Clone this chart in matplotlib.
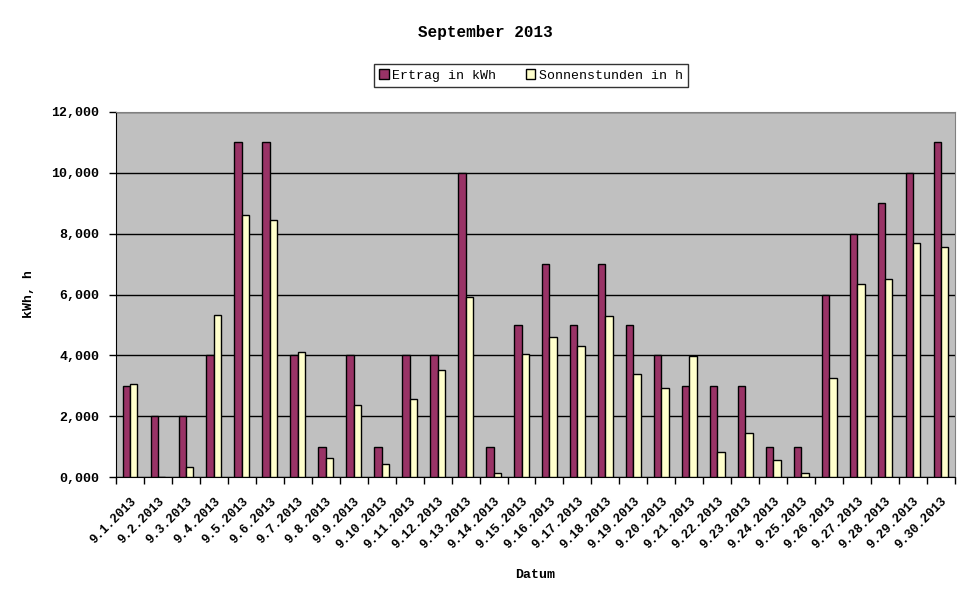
import matplotlib
matplotlib.use("Agg")
import matplotlib.pyplot as plt
import numpy as np
from matplotlib.ticker import FuncFormatter, FixedLocator

days = [f"9.{d}.2013" for d in range(1, 31)]
ertrag = [3, 2, 2, 4, 11, 11, 4, 1, 4, 1, 4, 4, 10, 1, 5, 7, 5, 7, 5, 4,
          3, 3, 3, 1, 1, 6, 8, 9, 10, 11]
sonne = [3.05, 0.0, 0.33, 5.32, 8.61, 8.46, 4.10, 0.63, 2.37, 0.42,
         2.56, 3.51, 5.91, 0.12, 4.04, 4.60, 4.30, 5.29, 3.38, 2.92,
         3.97, 0.82, 1.45, 0.56, 0.12, 3.25, 6.34, 6.50, 7.69, 7.56]
yticks = [0, 2, 4, 6, 8, 10, 12]

mono = "Liberation Mono"
fig = plt.figure(figsize=(9.7, 6.04), dpi=100)
ax = fig.add_axes([116/970, 1-477/604, (955-116)/970, (477-112)/604])
ax.set_facecolor("#C0C0C0")

x = np.arange(len(days))
w = 0.265
ax.bar(x - w/2, ertrag, w, color="#993366", edgecolor="black", linewidth=1, label="Ertrag in kWh", zorder=3)
ax.bar(x + w/2, sonne, w, color="#FFFFCC", edgecolor="black", linewidth=1, label="Sonnenstunden in h", zorder=3)

ax.set_xlim(-0.5, len(days) - 0.5)
ax.set_ylim(0, 12)
ax.set_yticks(yticks)
ax.yaxis.set_major_formatter(FuncFormatter(lambda v, p: f"{v:.3f}".replace(".", ",")))
ax.grid(axis="y", color="black", linewidth=1, zorder=1)

ax.set_xticks(x)
ax.set_xticklabels(days, rotation=45, ha="right", rotation_mode="anchor",
                   fontfamily=mono, fontweight="bold", fontsize=9)
ax.tick_params(axis="x", which="major", length=0, pad=13)
ax.xaxis.set_minor_locator(FixedLocator(np.arange(-0.5, len(days), 1)))
ax.tick_params(axis="x", which="minor", length=5, width=1, direction="out")
ax.tick_params(axis="y", length=5, width=1, direction="out", pad=7)
for lab in ax.get_yticklabels():
    lab.set_fontfamily(mono)
    lab.set_fontweight("bold")
    lab.set_fontsize(9.5)

for s in ["top", "right"]:
    ax.spines[s].set_color("#808080")
for s in ["left", "bottom"]:
    ax.spines[s].set_color("black")

ax.set_ylabel("kWh, h", fontfamily=mono, fontweight="bold", fontsize=9.5, labelpad=12)
fig.text(535/970, 1-575/604, "Datum", ha="center", va="center",
         fontfamily=mono, fontweight="bold", fontsize=9.5)
fig.text(485/970, 1-33/604, "September 2013", ha="center", va="center",
         fontfamily=mono, fontweight="bold", fontsize=11.5)

leg = fig.legend(loc="center", bbox_to_anchor=(531/970, 1-75.5/604), ncol=2,
                 frameon=True, fancybox=False, edgecolor="black",
                 prop={"family": mono, "size": 9.5},
                 handlelength=0.7, handleheight=0.7, handletextpad=0.3,
                 columnspacing=2.2, borderpad=0.4, borderaxespad=0)
leg.get_frame().set_linewidth(1)

fig.savefig("out.png", dpi=100)
